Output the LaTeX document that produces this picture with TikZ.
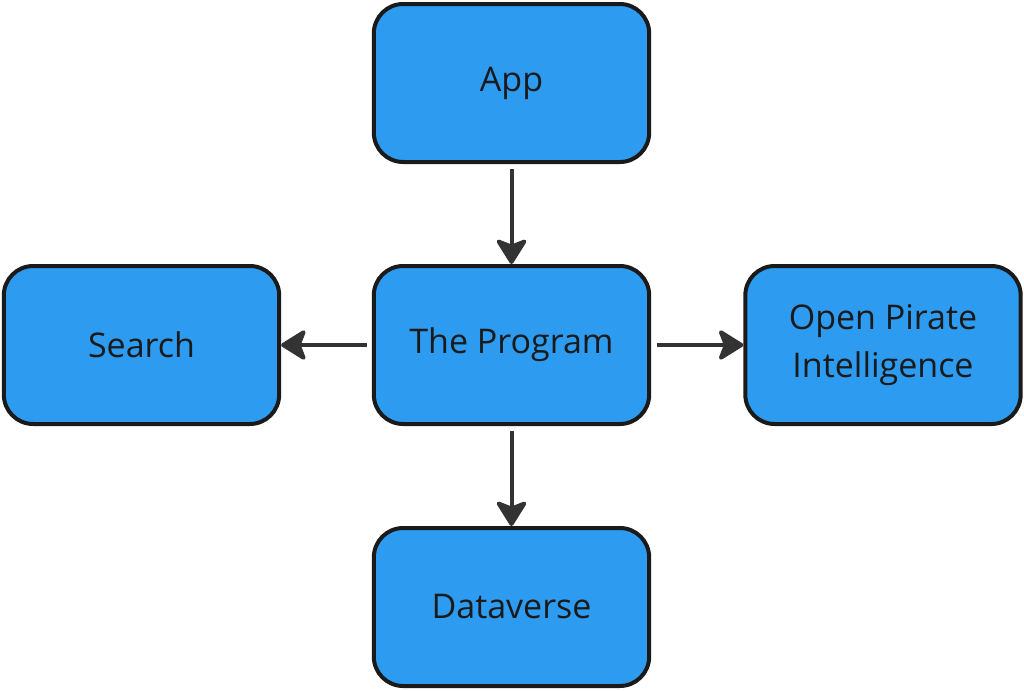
\documentclass[tikz,border=0pt]{standalone}
\usepackage{fontspec}
\setmainfont{Open Sans}
\usepackage{tikz}
\usetikzlibrary{arrows.meta}
\definecolor{boxblue}{HTML}{2D9BF0}
\definecolor{edgegray}{HTML}{333333}
\definecolor{rimblack}{HTML}{1A1A1A}

\begin{document}
\begin{tikzpicture}[x=0.75pt, y=-0.75pt,
	box/.style={draw=rimblack, line width=3pt, rounded corners=22pt, fill=boxblue, minimum width=206.5pt, minimum height=118.5pt, align=center, font=\fontsize{25.5}{36}\selectfont, text=rimblack},
	link/.style={draw=edgegray, line width=3pt, shorten <=4pt, -{Stealth[length=21pt, width=26pt, inset=5pt, round]}}]
	\useasboundingbox (0,0) rectangle (1024,690);
	\node[box] (app) at (511.5,83) {App};
	\node[box] (prog) at (511.5,345) {The Program};
	\node[box] (search) at (141.5,345) {Search};
	\node[box] (opi) at (883,345) {Open Pirate\\ Intelligence};
	\node[box] (data) at (511.5,607) {Dataverse};
	\draw[link] (app) -- (prog);
	\draw[link] (prog) -- (search);
	\draw[link] (prog) -- (opi);
	\draw[link] (prog) -- (data);
\end{tikzpicture}
\end{document}
